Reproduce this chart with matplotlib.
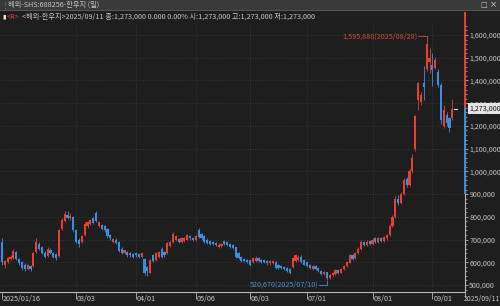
import matplotlib
matplotlib.use("Agg")
import matplotlib.pyplot as plt
from matplotlib.patches import Rectangle
import matplotlib.transforms as mtransforms
import pandas as pd

plt.rcParams['font.family'] = ['Noto Sans CJK KR', 'DejaVu Sans']

# ---------------- data ----------------
holidays = ['2025-01-28', '2025-01-29', '2025-01-30', '2025-01-31', '2025-02-03', '2025-02-04',
            '2025-04-04', '2025-05-01', '2025-05-02', '2025-05-05', '2025-06-02']
dates = [d for d in pd.bdate_range('2025-01-16', '2025-09-11') if d.strftime('%Y-%m-%d') not in holidays]

# prices in thousands
opens = [690, 590, 600, 615, 620, 645, 615, 600, 590, 570, 585, 585, 645, 682, 665, 640, 628, 655, 640, 635,
         628, 745, 780, 810, 795, 800, 740, 700, 690, 720, 760, 770, 795, 815, 760, 765, 758, 745, 720, 690,
         700, 690, 660, 640, 645, 640, 635, 640, 635, 625, 615, 580, 555, 630, 610, 625, 660, 645, 640, 670,
         690, 700, 702, 690, 695, 700, 715, 705, 700, 740, 725, 715, 700, 695, 690, 685, 668, 670, 695, 690,
         680, 675, 665, 640, 622, 615, 610, 610, 600, 605, 620, 612, 610, 605, 595, 598, 600, 590, 585, 580,
         575, 570, 580, 605, 610, 625, 610, 600, 590, 572, 582, 575, 562, 548, 555, 530, 545, 550, 565, 555,
         570, 585, 598, 630, 618, 640, 660, 690, 675, 695, 680, 705, 690, 705, 695, 705, 720, 760, 800, 880,
         860, 900, 965, 940, 1000, 1100, 1315, 1305, 1390, 1450, 1480, 1470, 1455, 1437, 1380, 1200, 1250, 1235, 1235, 1273]
closes = [600, 605, 620, 625, 650, 615, 598, 575, 570, 588, 570, 640, 690, 660, 642, 625, 660, 640, 625, 620,
          740, 785, 812, 795, 805, 740, 690, 680, 715, 770, 775, 785, 775, 780, 775, 745, 740, 715, 705, 702,
          685, 650, 640, 652, 630, 630, 625, 630, 625, 640, 555, 560, 610, 605, 640, 645, 625, 630, 685, 688,
          725, 715, 690, 705, 705, 720, 705, 698, 715, 712, 705, 690, 685, 680, 680, 675, 678, 680, 680, 675,
          668, 665, 625, 620, 605, 605, 600, 590, 620, 620, 605, 602, 600, 595, 605, 606, 575, 575, 575, 570,
          560, 555, 620, 630, 625, 600, 590, 585, 575, 582, 570, 560, 550, 556, 530, 545, 552, 565, 555, 570,
          585, 600, 630, 615, 640, 660, 690, 675, 690, 680, 700, 690, 705, 695, 710, 720, 760, 800, 880, 860,
          900, 960, 940, 1000, 1060, 1243, 1390, 1335, 1372, 1560, 1500, 1445, 1490, 1380, 1226, 1270, 1215, 1190, 1275, 1273]
highs = [705, 612, 625, 632, 660, 650, 620, 605, 595, 592, 590, 645, 705, 690, 670, 648, 665, 662, 645, 640,
         745, 795, 825, 825, 815, 805, 745, 705, 720, 775, 780, 792, 800, 825, 780, 770, 762, 750, 725, 708,
         705, 695, 665, 656, 650, 645, 640, 645, 640, 645, 620, 585, 615, 635, 645, 650, 665, 650, 690, 695,
         735, 720, 708, 710, 712, 725, 720, 710, 720, 750, 730, 718, 705, 700, 695, 690, 684, 686, 698, 694,
         685, 680, 668, 645, 626, 620, 614, 612, 625, 628, 625, 616, 614, 610, 610, 612, 604, 594, 590, 585,
         580, 574, 625, 638, 632, 630, 615, 605, 594, 586, 586, 578, 566, 560, 558, 550, 558, 570, 570, 575,
         590, 605, 636, 635, 645, 668, 698, 695, 696, 700, 708, 710, 710, 712, 716, 726, 768, 810, 890, 895,
         910, 970, 975, 1010, 1075, 1248, 1395, 1350, 1465, 1595.88, 1545, 1520, 1505, 1450, 1390, 1290, 1260, 1240, 1320, 1273]
lows = [590, 575, 595, 608, 615, 610, 590, 565, 560, 565, 560, 580, 640, 655, 635, 618, 622, 635, 620, 612,
        625, 740, 775, 790, 788, 735, 685, 665, 685, 715, 752, 765, 770, 775, 755, 740, 735, 708, 700, 685,
        680, 645, 635, 636, 625, 625, 620, 625, 618, 620, 545, 540, 552, 600, 605, 620, 620, 625, 635, 665,
        685, 695, 685, 686, 690, 696, 700, 692, 695, 708, 700, 685, 680, 675, 676, 670, 664, 665, 676, 670,
        663, 660, 620, 615, 600, 600, 595, 585, 596, 600, 600, 598, 596, 590, 590, 594, 570, 570, 570, 565,
        556, 550, 576, 600, 606, 596, 586, 580, 570, 568, 565, 555, 545, 544, 520.67, 526, 540, 546, 550, 552,
        566, 580, 595, 610, 614, 636, 655, 670, 670, 675, 676, 685, 686, 690, 690, 700, 716, 755, 795, 850,
        855, 895, 930, 935, 995, 1090, 1270, 1290, 1315, 1440, 1435, 1375, 1450, 1370, 1210, 1190, 1200, 1175, 1225, 1273]

yticks = [500, 600, 700, 800, 900, 1000, 1100, 1200, 1300, 1400, 1500, 1600]
xtick_dates = ['2025-01-16', '2025-03-03', '2025-04-01', '2025-05-06', '2025-06-03', '2025-07-01', '2025-08-01', '2025-09-01']
xtick_labels = ['2025/01/16', '03/03', '04/01', '05/06', '06/03', '07/01', '08/01', '09/01']
last_label = '2025/09/11'
max_text = '1,595,880(2025/08/28)'
min_text = '520,670(2025/07/10)'
cur_text = '1,273,000'
title_text = '해외-SHS:688256-한우지 (일)'
info_text = '<해외-한우지>2025/09/11 종:1,273,000 0.000 0.00% 시:1,273,000 고:1,273,000 저:1,273,000'

# ---------------- style ----------------
W, H = 500, 306
BG = '#1e1e1e'
RED = '#e8412f'
BLUE = '#3a8ee6'
TXT = '#c8c8c8'
GRID = '#3c3c3c'
AXC = '#b8b8b8'

def fx(px):
    return px / W

def fy(py):
    return 1 - py / H

fig = plt.figure(figsize=(W / 100, H / 100), dpi=100, facecolor=BG)

# header bars
fig.patches.append(Rectangle((0, fy(10)), 1, 10 / H, transform=fig.transFigure, facecolor='#3a3a3a', edgecolor='none', zorder=0))
fig.patches.append(Rectangle((0, fy(11)), 1, 1 / H, transform=fig.transFigure, facecolor='#555555', edgecolor='none', zorder=0))
fig.text(fx(2), fy(5), '⋮', color='#9a9a9a', fontsize=5, va='center', ha='left')
fig.text(fx(8), fy(5), title_text, color=TXT, fontsize=5.2, va='center', ha='left')
fig.text(fx(484), fy(5), '□', color=TXT, fontsize=5, va='center', ha='center', family=['DejaVu Sans'])
fig.text(fx(493), fy(5), '×', color=TXT, fontsize=6, va='center', ha='center', family=['DejaVu Sans'])
fig.text(fx(2), fy(17), '▮', color='#f0f0f0', fontsize=4.5, va='center', ha='left', family=['DejaVu Sans'])
fig.text(fx(7), fy(17), '<R>', color=RED, fontsize=5.2, va='center', ha='left')
fig.text(fx(22), fy(17), info_text, color=TXT, fontsize=5.2, va='center', ha='left')

# axes
ax_top, ax_bot, ax_right = 22, 292, 465
ax = fig.add_axes([0, fy(ax_bot), fx(ax_right), (ax_bot - ax_top) / H], facecolor=BG)

n = len(dates)
xs = list(range(n))
px_per = 2.85
x0 = -2 / px_per
x1 = (ax_right - 2) / px_per
ppx = 4.4  # thousand per px; 1,600,000 at y=35 px
ytop = 1600 + (35 - ax_top) * ppx
ybot = 1600 - (ax_bot - 35) * ppx
ax.set_xlim(x0, x1)
ax.set_ylim(ybot * 1000, ytop * 1000)

# grid
tick_idx = [next(i for i, d in enumerate(dates) if d.strftime('%Y-%m-%d') == t) for t in xtick_dates]
for xi in tick_idx[1:]:
    ax.axvline(xi, color=GRID, lw=0.6, ls=(0, (1, 2)), zorder=0)
for yv in yticks:
    ax.axhline(yv * 1000, color=GRID, lw=0.6, ls=(0, (1, 2)), zorder=0)

# candles
bw = 0.75
for i in xs:
    o, c, h, l = opens[i], closes[i], highs[i], lows[i]
    col = RED if c >= o else BLUE
    ax.vlines(i, l * 1000, h * 1000, color=col, lw=0.6, zorder=2)
    bottom = min(o, c)
    height = max(abs(c - o), 2.5)
    ax.bar(i, height * 1000, bottom=bottom * 1000 - (1250 if abs(c - o) < 2.5 else 0),
           width=bw, color=col, edgecolor='none', zorder=3)

# spines and ticks
for s in ['top', 'left']:
    ax.spines[s].set_visible(False)
for s in ['right', 'bottom']:
    ax.spines[s].set_color(AXC)
    ax.spines[s].set_linewidth(0.8)
ax.yaxis.tick_right()
ax.set_yticks([v * 1000 for v in yticks])
ax.set_yticklabels([f'{v * 1000:,}' for v in yticks])
ax.set_yticks([v * 1000 for v in range(480, 1660, 20)], minor=True)
ax.tick_params(axis='y', which='major', length=2.5, width=0.6, color=AXC, labelcolor=TXT, labelsize=5.1, pad=0.6)
ax.tick_params(axis='y', which='minor', length=1.3, width=0.5, color=AXC)
ax.set_xticks(tick_idx)
ax.set_xticklabels([])
ax.tick_params(axis='x', length=5, width=0.6, color=AXC)

# x labels beside their ticks
btrans = mtransforms.blended_transform_factory(ax.transData, fig.transFigure)
for xi, lab in zip(tick_idx, xtick_labels):
    ax.text(xi + 0.35, fy(299), lab, transform=btrans, color=TXT, fontsize=5.2,
            va='center', ha='left', clip_on=False)
fig.text(fx(463.5), fy(299), last_label, color=TXT, fontsize=5.0, va='center', ha='left')
fig.add_artist(plt.Line2D([fx(465), fx(465)], [fy(292), fy(297)], color=AXC, lw=0.6))

# coloured range line on the price axis
ax.plot([x1, x1], [1273 * 1000, (1600 + (35 - 13) * ppx) * 1000], color=RED, lw=1.4, clip_on=False, zorder=5)
ax.plot([x1, x1], [905 * 1000, 1273 * 1000], color=BLUE, lw=1.4, clip_on=False, zorder=5)

# current price box
fig.text(fx(469), fy(108.5), cur_text, color='#111111', fontsize=5.1, va='center', ha='left',
         bbox=dict(boxstyle='square,pad=0.15', facecolor='#e4e4e4', edgecolor='none'))
ax.plot([n - 1 - 0.4, n - 1 + 0.6], [1273 * 1000] * 2, color='#e0e0e0', lw=0.8, zorder=4)

# max / min annotations
imax = max(xs, key=lambda i: highs[i])
imin = min(xs, key=lambda i: lows[i])
ymax_txt = 1594
ax.text(imax - 3.3, ymax_txt * 1000, max_text, color='#d9483a', fontsize=5.2, va='center', ha='right')
ax.plot([imax - 3.1, imax, imax], [ymax_txt * 1000, ymax_txt * 1000, highs[imax] * 1000 - 8000],
        color='#d9483a', lw=0.6, zorder=4)
ymin_txt = 502
ax.text(imin - 3.1, ymin_txt * 1000, min_text, color='#4a8fd8', fontsize=5.2, va='center', ha='right')
ax.plot([imin - 2.9, imin, imin], [ymin_txt * 1000, ymin_txt * 1000, lows[imin] * 1000 - 2000],
        color='#4a8fd8', lw=0.6, zorder=4)

fig.savefig('out.png', dpi=100, facecolor=BG)
